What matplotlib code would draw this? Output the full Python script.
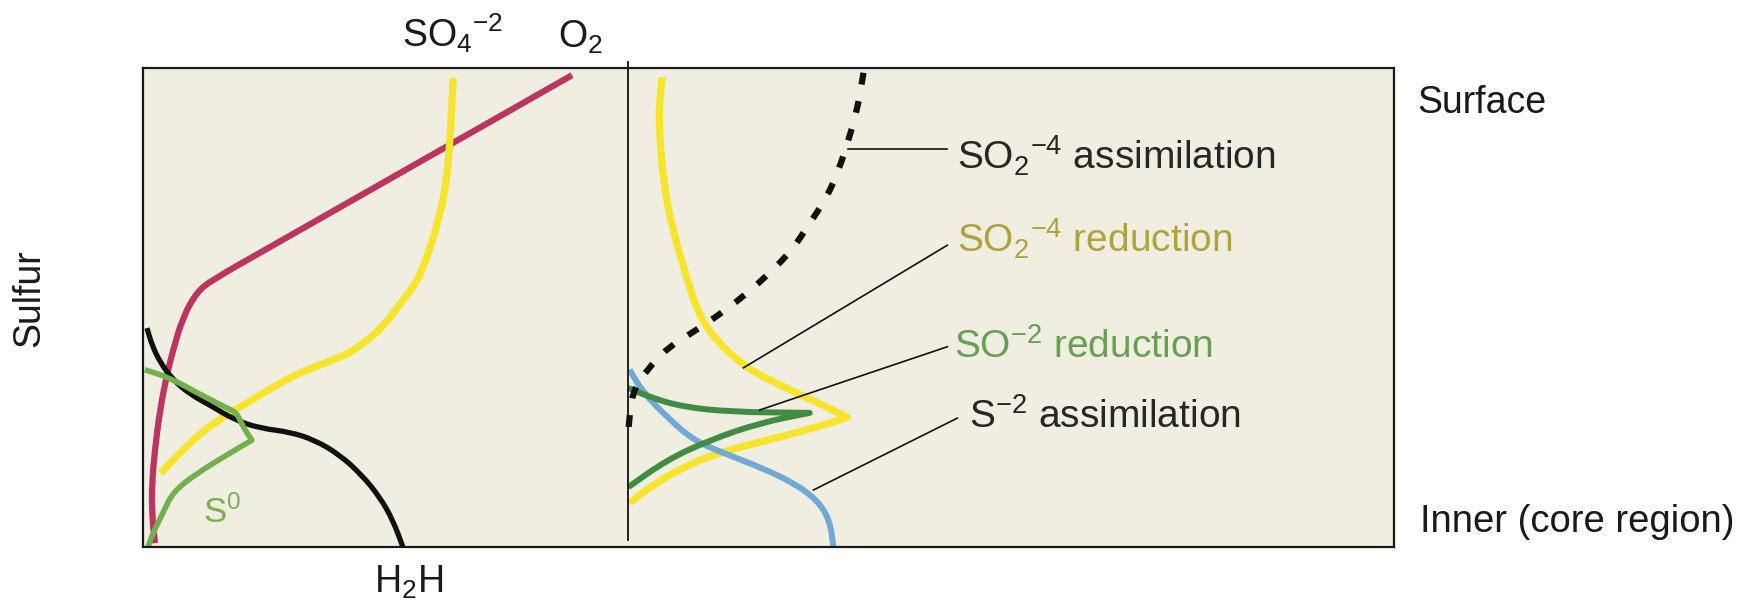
import matplotlib.pyplot as plt
import numpy as np
from matplotlib.path import Path
from matplotlib.patches import PathPatch

plt.rcParams['font.family'] = ['Liberation Sans', 'DejaVu Sans']
plt.rcParams['mathtext.fontset'] = 'custom'
plt.rcParams['mathtext.rm'] = 'Liberation Sans'
plt.rcParams['mathtext.it'] = 'Liberation Sans:italic'
plt.rcParams['mathtext.default'] = 'regular'

# x = relative concentration / rate (0-100 across the box), depth = 0 (surface) .. 100 (inner)
o2_x = [34.3, 5.5, 4.3, 3.2, 2.4, 1.76, 1.28, 0.96, 0.72, 0.72, 0.96]
o2_depth = [1.5, 44.3, 46.8, 52.0, 58.9, 65.8, 72.9, 79.7, 86.6, 93.3, 99.2]

so4_x = [24.8, 24.6, 24.3, 23.7, 22.9, 22.0, 20.8, 19.3, 17.7, 16.0, 12.3, 9.1, 5.6, 3.4, 1.4]
so4_depth = [2.1, 12.9, 23.4, 31.1, 38.0, 44.3, 48.4, 53.7, 57.4, 60.3, 63.7, 68.7, 74.1, 79.1, 84.6]

h2s_x = [0.32, 0.72, 1.36, 2.4, 3.76, 5.36, 7.35, 9.35, 11.75, 13.75, 15.75, 17.5, 18.94, 19.98, 20.78]
h2s_depth = [54.3, 57.8, 61.4, 65.1, 68.1, 70.4, 73.5, 75.2, 76.0, 77.7, 80.8, 85.0, 89.6, 94.4, 100]

s0_x = [0.16, 2.16, 4.32, 6.71, 7.51, 7.99, 8.71, 6.95, 4.32, 2.40, 1.60, 0.80, 0.40]
s0_depth = [63.0, 64.7, 67.8, 71.0, 72.0, 74.9, 77.7, 80.4, 84.6, 88.5, 92.9, 97.1, 100]

# right half: process rates
so4_red_x = [41.5, 41.2, 41.6, 42.4, 43.6, 44.3, 45.3, 48.0, 51.7, 54.7, 56.3, 53.9, 49.9, 45.9, 43.2, 40.5, 38.9]
so4_red_depth = [1.9, 10.2, 24.0, 34.4, 44.9, 50.5, 55.3, 62.4, 67.2, 70.8, 72.9, 75.0, 77.7, 80.4, 83.3, 87.5, 90.8]

so4_ass_x = [57.6, 57.1, 56.4, 55.7, 54.7, 53.3, 51.9, 50.1, 48.3, 46.4, 44.0, 41.9, 40.3, 39.1, 38.8]
so4_ass_depth = [1.0, 8.8, 15.0, 20.7, 26.9, 32.4, 38.0, 42.8, 47.0, 50.9, 55.1, 58.5, 63.0, 67.6, 75.6]

so_red_x = [38.8, 40.5, 43.2, 47.2, 53.3, 49.3, 45.3, 41.9, 38.8]
so_red_depth = [66.8, 68.7, 70.8, 71.8, 72.0, 74.1, 77.7, 81.8, 87.5]

s_ass_x = [38.9, 40.0, 41.9, 44.0, 46.4, 49.3, 52.0, 53.9, 54.9, 55.2]
s_ass_depth = [63.0, 67.8, 72.9, 77.7, 80.4, 83.3, 86.6, 90.2, 94.4, 100]

labels = [r'SO$_2{}^{-4}$ assimilation', r'SO$_2{}^{-4}$ reduction',
          r'SO$^{-2}$ reduction', r'S$^{-2}$ assimilation']
label_colors = ['#262626', '#b0a23c', '#67a052', '#262626']
label_pos = [(65.1, 21.3), (65.1, 38.6), (64.8, 60.5), (66.0, 75.2)]
leader_from = [(64.3, 16.9), (64.3, 37.0), (64.3, 58.2), (65.1, 73.1)]
leader_to = [(56.4, 16.9), (48.0, 62.6), (49.3, 71.4), (53.6, 88.1)]

divider_x = 38.8


def smooth_path(xs, ys, sharp=(), r=30):
    # rounds the corners of the polyline with quadratic curves (r ~ pixels)
    pts = np.column_stack([xs, ys]).astype(float)
    scale = np.array([12.51, 4.79])
    verts = [pts[0]]
    codes = [Path.MOVETO]
    for i in range(1, len(pts) - 1):
        p = pts[i]
        if i in sharp:
            verts.append(p)
            codes.append(Path.LINETO)
            continue
        a, b = pts[i - 1], pts[i + 1]
        ta = min(0.5, r / np.linalg.norm((a - p) * scale))
        tb = min(0.5, r / np.linalg.norm((b - p) * scale))
        verts += [p + (a - p) * ta, p, p + (b - p) * tb]
        codes += [Path.LINETO, Path.CURVE3, Path.CURVE3]
    verts.append(pts[-1])
    codes.append(Path.LINETO)
    return Path(verts, codes)


def curve(ax, xs, ys, color, lw, sharp=(), **kw):
    patch = PathPatch(smooth_path(xs, ys, sharp), fill=False, edgecolor=color,
                      lw=lw, capstyle='butt', joinstyle='round', **kw)
    ax.add_patch(patch)


fig = plt.figure(figsize=(17.54, 6.05), dpi=100)
ax = fig.add_axes([0.0815, 0.0959, 0.7132, 0.7917])
ax.set_facecolor('#f0ede1')
ax.set_xlim(0, 100)
ax.set_ylim(100, 0)
ax.set_xticks([])
ax.set_yticks([])
for s in ax.spines.values():
    s.set_linewidth(1.6)
    s.set_color('#1a1a1a')

curve(ax, o2_x, o2_depth, '#bb3560', 4.5)
curve(ax, so4_x, so4_depth, '#f6e52c', 5.2)
curve(ax, h2s_x, h2s_depth, '#111111', 3.8)
curve(ax, s0_x, s0_depth, '#72b04e', 4, sharp=(6,))

ax.plot([divider_x, divider_x], [-1.3, 98.5], color='#111111', lw=1.3, clip_on=False)

curve(ax, so4_red_x, so4_red_depth, '#f6e52c', 5.2, sharp=(10,))
curve(ax, s_ass_x, s_ass_depth, '#6fa9d4', 4.3)
curve(ax, so_red_x, so_red_depth, '#3f8c42', 4.3, sharp=(4,))
curve(ax, so4_ass_x, so4_ass_depth, '#111111', 4.5, linestyle=(0, (1.9, 2.7)))

for (x0, y0), (x1, y1) in zip(leader_from, leader_to):
    ax.plot([x0, x1], [y0, y1], color='#111111', lw=1.2)
for t, c, (x, y) in zip(labels, label_colors, label_pos):
    ax.text(x, y, t, color=c, fontsize=28, ha='left', va='baseline')

ax.text(20.7, -4.4, r'SO$_4{}^{-2}$', fontsize=27, color='#1a1a1a', va='baseline')
ax.text(33.2, -4.2, r'O$_2$', fontsize=27, color='#1a1a1a', va='baseline')
ax.text(18.5, 109.6, r'H$_2$H', fontsize=27, color='#1a1a1a', va='baseline')
ax.text(4.8, 95.0, r'S$^0$', fontsize=25, color='#7ab04f', va='baseline')
ax.text(101.9, 9.4, 'Surface', fontsize=27, color='#1a1a1a', va='baseline')
ax.text(102.1, 96.9, 'Inner (core region)', fontsize=27.5, color='#1a1a1a', va='baseline')
ax.text(-9.1, 48.0, 'Sulfur', fontsize=27, color='#1a1a1a', rotation=90,
        ha='center', va='center')

fig.savefig('out.png', dpi=100, facecolor='white')
